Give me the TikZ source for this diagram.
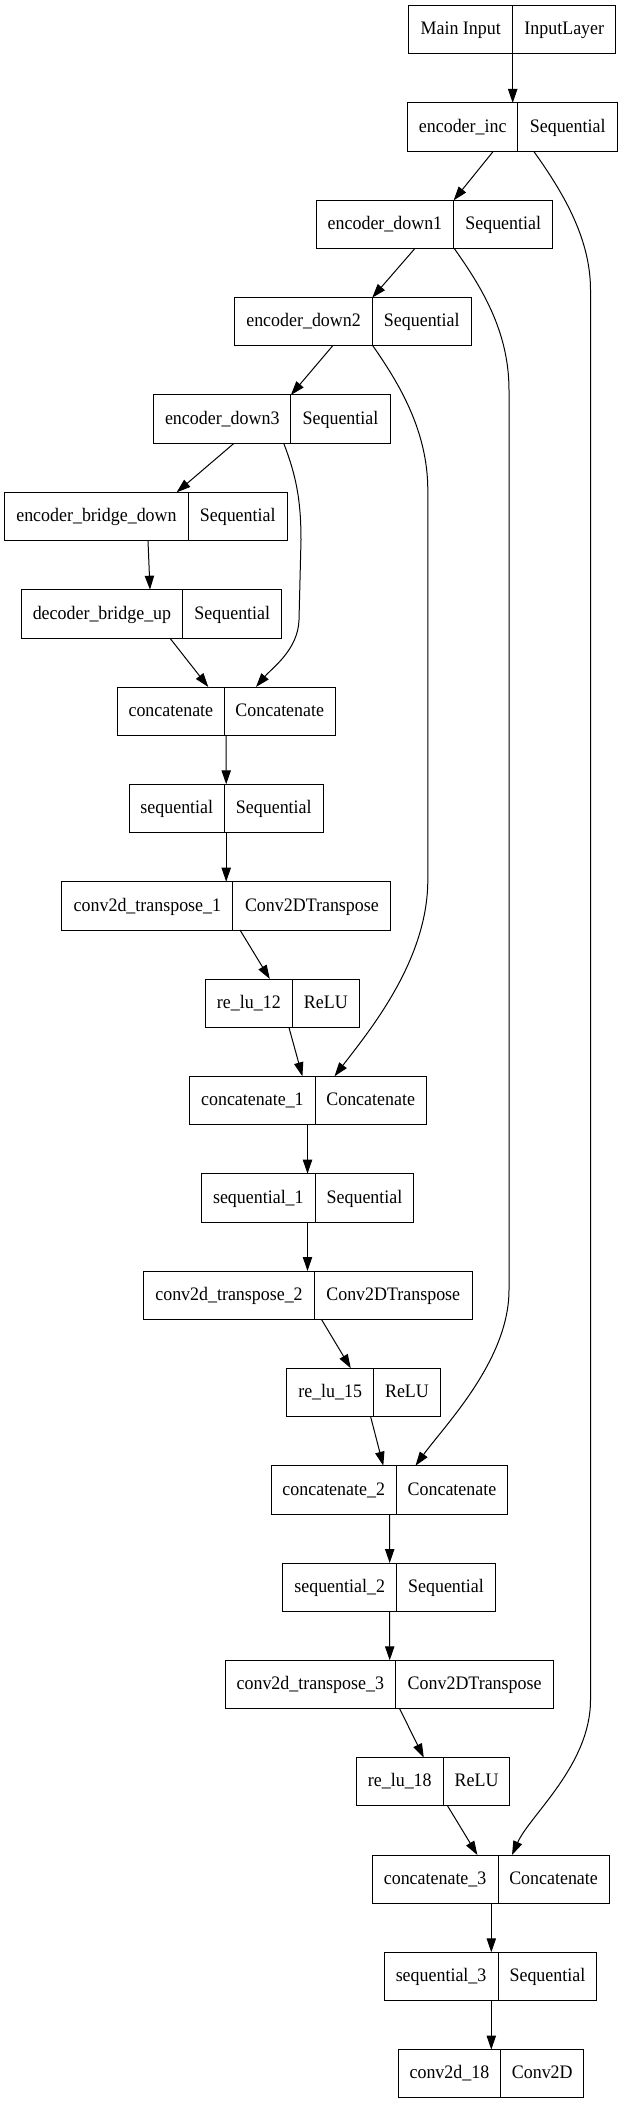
\documentclass[tikz,border=0pt]{standalone}
\usepackage{fontspec}
\setmainfont[FakeStretch=0.94]{Liberation Serif}
\usetikzlibrary{arrows.meta,fit,calc}
\tikzset{
  kbox/.style={draw=black, line width=0.75pt, inner sep=0pt, outer sep=0pt},
  kline/.style={draw=black, line width=0.75pt},
  klabel/.style={anchor=base, inner sep=0pt, font=\fontsize{14.3}{17}\selectfont},
  arr/.style={draw=black, line width=0.75pt, -{Triangle[length=10.5pt,width=7pt]}}
}
\newcommand{\kbox}[7]{%
  \node[kbox, fit={(#2,#5) (#4,{#5+48.3})}] (#1) {};
  \draw[kline] (#3,#5) -- (#3,{#5+48.3});
  \node[klabel] (#1l) at ({(#2+#3)/2},{#5+29.3}) {#6};
  \node[klabel] (#1r) at ({(#3+#4)/2},{#5+29.3}) {#7};
}
\begin{document}
\begin{tikzpicture}[x=0.75pt,y=-0.75pt]
\useasboundingbox (0,0) rectangle (621,2104);
\kbox{b1}{408.7}{512.7}{615.9}{5.7}{Main Input}{InputLayer}
\kbox{b2}{407.5}{517.9}{617.5}{103.0}{encoder\_inc}{Sequential}
\kbox{b3}{316.3}{453.6}{552.8}{200.4}{encoder\_down1}{Sequential}
\kbox{b4}{234.9}{372.2}{471.4}{297.7}{encoder\_down2}{Sequential}
\kbox{b5}{153.6}{290.9}{390.1}{395.0}{encoder\_down3}{Sequential}
\kbox{b6}{4.8}{188.1}{287.3}{492.4}{encoder\_bridge\_down}{Sequential}
\kbox{b7}{21.0}{182.9}{281.7}{589.7}{decoder\_bridge\_up}{Sequential}
\kbox{b8}{117.5}{224.2}{335.3}{687.0}{concatenate}{Concatenate}
\kbox{b9}{129.4}{224.2}{323.4}{784.3}{sequential}{Sequential}
\kbox{b10}{61.9}{232.9}{390.9}{881.7}{conv2d\_transpose\_1}{Conv2DTranspose}
\kbox{b11}{205.2}{292.5}{359.1}{979.0}{re\_lu\_12}{ReLU}
\kbox{b12}{189.7}{315.1}{426.2}{1076.3}{concatenate\_1}{Concatenate}
\kbox{b13}{201.6}{315.1}{413.9}{1173.7}{sequential\_1}{Sequential}
\kbox{b14}{143.7}{314.3}{472.2}{1271.0}{conv2d\_transpose\_2}{Conv2DTranspose}
\kbox{b15}{286.9}{373.4}{440.5}{1368.3}{re\_lu\_15}{ReLU}
\kbox{b16}{271.0}{396.4}{507.5}{1465.7}{concatenate\_2}{Concatenate}
\kbox{b17}{282.9}{396.4}{495.6}{1563.0}{sequential\_2}{Sequential}
\kbox{b18}{225.0}{395.6}{553.6}{1660.3}{conv2d\_transpose\_3}{Conv2DTranspose}
\kbox{b19}{356.3}{443.3}{509.9}{1757.6}{re\_lu\_18}{ReLU}
\kbox{b20}{372.2}{498.0}{609.1}{1855.0}{concatenate\_3}{Concatenate}
\kbox{b21}{384.1}{498.0}{596.8}{1952.3}{sequential\_3}{Sequential}
\kbox{b22}{398.0}{500.8}{583.7}{2049.6}{conv2d\_18}{Conv2D}
% straight connectors
\draw[arr] ($(b1.south west)+(104.0,0)$) -- ($(b2.north west)+(105.2,0)$);
\draw[arr] ($(b2.south west)+(85.8,0)$) -- ($(b3.north west)+(137.3,0)$);
\draw[arr] ($(b3.south west)+(98.4,0)$) -- ($(b4.north west)+(137.3,0)$);
\draw[arr] ($(b4.south west)+(97.6,0)$) -- ($(b5.north west)+(137.3,0)$);
\draw[arr] ($(b5.south west)+(80.4,0)$) -- ($(b6.north west)+(171.8,0)$);
\draw[arr] ($(b6.south west)+(143.2,0)$) -- ($(b7.north west)+(129.0,0)$);
\draw[arr] ($(b7.south west)+(148.8,0)$) -- ($(b8.north west)+(90.8,0)$);
\draw[arr] ($(b8.south west)+(108.7,0)$) -- ($(b9.north west)+(96.8,0)$);
\draw[arr] ($(b9.south west)+(96.8,0)$) -- ($(b10.north west)+(164.3,0)$);
\draw[arr] ($(b10.south west)+(178.1,0)$) -- ($(b11.north west)+(64.6,0)$);
\draw[arr] ($(b11.south west)+(83.7,0)$) -- ($(b12.north west)+(112.7,0)$);
\draw[arr] ($(b12.south west)+(117.8,0)$) -- ($(b13.north west)+(105.9,0)$);
\draw[arr] ($(b13.south west)+(105.9,0)$) -- ($(b14.north west)+(163.8,0)$);
\draw[arr] ($(b14.south west)+(177.7,0)$) -- ($(b15.north west)+(63.9,0)$);
\draw[arr] ($(b15.south west)+(83.7,0)$) -- ($(b16.north west)+(112.3,0)$);
\draw[arr] ($(b16.south west)+(118.7,0)$) -- ($(b17.north west)+(106.8,0)$);
\draw[arr] ($(b17.south west)+(106.8,0)$) -- ($(b18.north west)+(164.7,0)$);
\draw[arr] ($(b18.south west)+(174.6,0)$) -- ($(b19.north west)+(67.5,0)$);
\draw[arr] ($(b19.south west)+(91.3,0)$) -- ($(b20.north west)+(105.2,0)$);
\draw[arr] ($(b20.south west)+(119.1,0)$) -- ($(b21.north west)+(107.2,0)$);
\draw[arr] ($(b21.south west)+(107.2,0)$) -- ($(b22.north west)+(93.3,0)$);
% skip connectors
\draw[arr] ($(b2.south west)+(126.2,0)$) .. controls (565,195) and (590.5,240) .. (590.5,290)
  -- (590.5,1700) .. controls (590.5,1765) and (530,1815) .. ($(b20.north west)+(139.8,0)$);
\draw[arr] ($(b3.south west)+(138.1,0)$) .. controls (480,285) and (509,330) .. (509,390)
  -- (509,1290) .. controls (509,1360) and (445,1425) .. ($(b16.north west)+(144.5,0)$);
\draw[arr] ($(b4.south west)+(138.1,0)$) .. controls (398,382) and (427.8,430) .. (427.8,490)
  -- (427.8,880) .. controls (427.8,960) and (370,1030) .. ($(b12.north west)+(144.8,0)$);
\draw[arr] ($(b5.south west)+(130.1,0)$) .. controls (296,475) and (301,500) .. (301,540)
  -- (299,620) .. controls (298,650) and (272,668) .. ($(b8.north west)+(138.5,0)$);
\end{tikzpicture}
\end{document}
